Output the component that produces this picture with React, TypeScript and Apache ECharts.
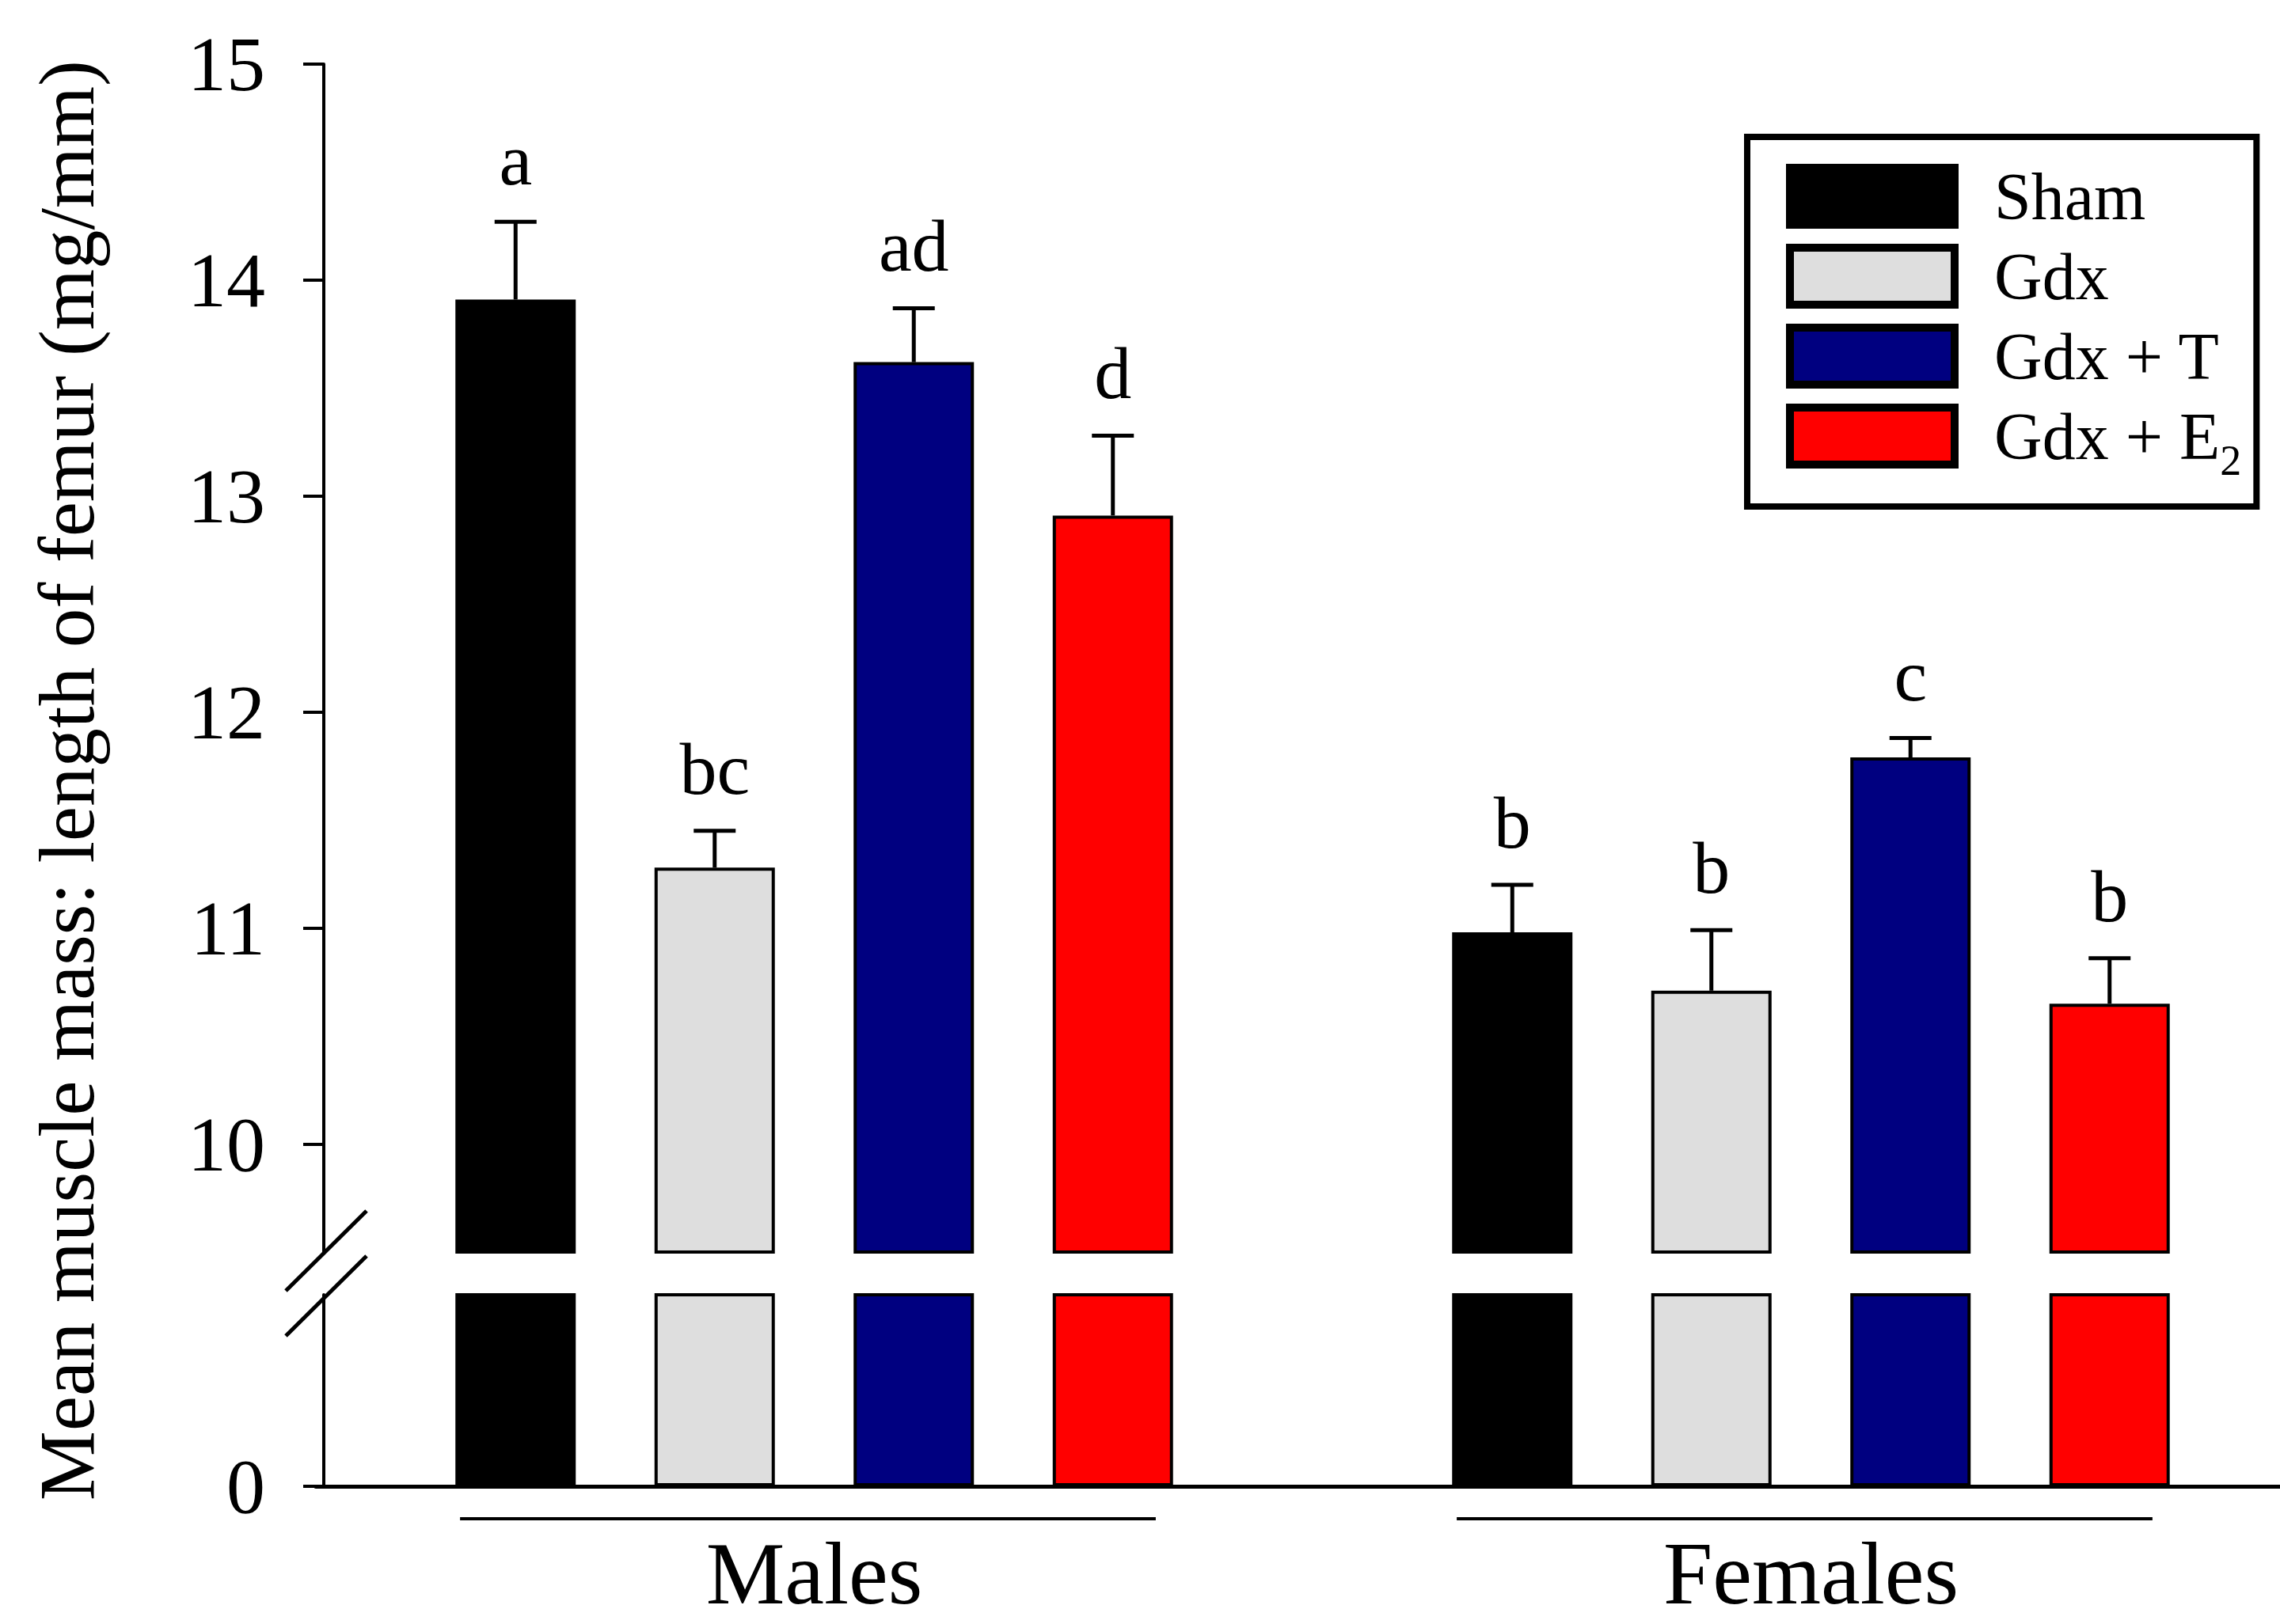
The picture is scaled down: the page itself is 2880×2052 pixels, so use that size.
import React, { useEffect, useRef } from 'react';
import * as echarts from 'echarts';

// ---------- data ----------
const categories = ['Males', 'Females'];
const seriesNames = ['Sham', 'Gdx', 'Gdx + T', 'Gdx + E2'];
const shamMean = [13.91, 10.98];
const shamSE = [0.36, 0.22];
const gdxMean = [11.28, 10.71];
const gdxSE = [0.17, 0.28];
const gdxTMean = [13.62, 11.79];
const gdxTSE = [0.25, 0.09];
const gdxE2Mean = [12.91, 10.65];
const gdxE2SE = [0.37, 0.21];
const shamLetters = ['a', 'b'];
const gdxLetters = ['bc', 'b'];
const gdxTLetters = ['ad', 'c'];
const gdxE2Letters = ['d', 'b'];
const upperTicks = [10, 11, 12, 13, 14, 15];
const lowerTicks = [0];
const yTitle = 'Mean muscle mass: length of femur (mg/mm)';

// ---------- styles / layout ----------
const FONT = '"Liberation Serif", "Times New Roman", serif';
const colors = ['#000000', '#DEDEDE', '#000080', '#FF0000'];
const W = 2880;
const H = 2052;
const GRID_LEFT = 399;
const GRID_WIDTH = 2518;
const AXIS_X = 409;
const UPPER_TOP = 81;
const UPPER_BOTTOM = 1582;
const LOWER_TOP = 1636;
const LOWER_BOTTOM = 1878;
const BAR_WIDTH = 152;
const BAR_GAP = 0.6546;

export default function App() {
  const ref = useRef<HTMLDivElement>(null);

  useEffect(() => {
    if (!ref.current) return;
    const chart = echarts.init(ref.current, null, { renderer: 'svg' });

    const means = [shamMean, gdxMean, gdxTMean, gdxE2Mean];
    const ses = [shamSE, gdxSE, gdxTSE, gdxE2SE];
    const letters = [shamLetters, gdxLetters, gdxTLetters, gdxE2Letters];
    const pitch = BAR_WIDTH * (1 + BAR_GAP);

    const series: any[] = [];
    for (let g = 0; g < 2; g++) {
      seriesNames.forEach((name, i) => {
        series.push({
          type: 'bar',
          name,
          xAxisIndex: g,
          yAxisIndex: g,
          data: means[i],
          barWidth: BAR_WIDTH,
          barGap: (BAR_GAP * 100).toFixed(2) + '%',
          clip: true,
          silent: true,
          itemStyle: { color: colors[i], borderColor: '#000', borderWidth: 4 },
        });
      });
    }

    seriesNames.forEach((name, i) => {
      const offset = (i - 1.5) * pitch;
      series.push({
        type: 'custom',
        xAxisIndex: 0,
        yAxisIndex: 0,
        silent: true,
        z: 5,
        data: means[i].map((m, c) => [c, m, ses[i][c]]),
        renderItem: (params: any, api: any) => {
          const c = api.value(0);
          const m = api.value(1);
          const se = api.value(2);
          const base = api.coord([c, m]);
          const top = api.coord([c, m + se]);
          const x = base[0] + offset;
          return {
            type: 'group',
            children: [
              { type: 'line', shape: { x1: x, y1: base[1], x2: x, y2: top[1] }, style: { stroke: '#000', lineWidth: 5 } },
              { type: 'line', shape: { x1: x - 26.5, y1: top[1], x2: x + 26.5, y2: top[1] }, style: { stroke: '#000', lineWidth: 5 } },
              {
                type: 'text',
                style: {
                  text: letters[i][params.dataIndex],
                  x,
                  y: top[1] - 32,
                  textAlign: 'center',
                  textVerticalAlign: 'bottom',
                  fontSize: 94,
                  fontFamily: FONT,
                  fill: '#000',
                },
              },
            ],
          };
        },
      });
    });

    // group underlines
    series.push({
      type: 'custom',
      xAxisIndex: 1,
      yAxisIndex: 1,
      silent: true,
      data: categories.map((_, i) => [i, 0]),
      renderItem: (params: any, api: any) => {
        const p = api.coord([api.value(0), 0]);
        const w = api.size([1, 0])[0];
        const cx = p[0] - 8;
        return {
          type: 'line',
          shape: { x1: cx - 0.349 * w, y1: p[1] + 41, x2: cx + 0.349 * w, y2: p[1] + 41 },
          style: { stroke: '#000', lineWidth: 4 },
        };
      },
    });

    const yAxisCommon = {
      type: 'value',
      offset: -(AXIS_X - GRID_LEFT),
      splitLine: { show: false },
      axisLine: { show: true, lineStyle: { color: '#000', width: 4 } },
    };

    chart.setOption({
      animation: false,
      backgroundColor: '#ffffff',
      grid: [
        { left: GRID_LEFT, top: UPPER_TOP, width: GRID_WIDTH, height: UPPER_BOTTOM - UPPER_TOP, containLabel: false, outerBoundsMode: 'none' },
        { left: GRID_LEFT, top: LOWER_TOP, width: GRID_WIDTH, height: LOWER_BOTTOM - LOWER_TOP, containLabel: false, outerBoundsMode: 'none' },
      ],
      xAxis: [
        { gridIndex: 0, type: 'category', data: categories, show: false },
        {
          gridIndex: 1,
          type: 'category',
          data: categories,
          axisLine: { show: true, lineStyle: { color: '#000', width: 5 } },
          axisTick: { show: false },
          axisLabel: { fontSize: 112, fontFamily: FONT, color: '#000', margin: 54 },
        },
      ],
      yAxis: [
        {
          ...yAxisCommon,
          gridIndex: 0,
          min: 9.5,
          max: 15,
          axisTick: { show: true, length: 26, lineStyle: { color: '#000', width: 4 }, customValues: upperTicks },
          axisLabel: { customValues: upperTicks, fontSize: 98, fontFamily: FONT, color: '#000', margin: 74 },
        },
        {
          ...yAxisCommon,
          gridIndex: 1,
          min: 0,
          max: 1,
          axisTick: { show: true, length: 26, lineStyle: { color: '#000', width: 4 }, customValues: lowerTicks },
          axisLabel: { customValues: lowerTicks, fontSize: 98, fontFamily: FONT, color: '#000', margin: 74 },
        },
      ],
      legend: {
        data: seriesNames,
        orient: 'vertical',
        left: 2207,
        top: 173,
        icon: 'rect',
        itemWidth: 208,
        itemHeight: 72,
        itemGap: 17,
        padding: [33, 19, 31, 49],
        borderColor: '#000',
        borderWidth: 8,
        backgroundColor: '#fff',
        selectedMode: false,
        itemStyle: { borderColor: '#000', borderWidth: 10 },
        formatter: (name: string) => (name === 'Gdx + E2' ? 'Gdx + E{sub|2}' : name),
        textStyle: {
          fontSize: 84,
          fontFamily: FONT,
          color: '#000',
          lineHeight: 72,
          padding: [0, 0, 0, 45],
          rich: {
            sub: { fontSize: 54, fontFamily: FONT, color: '#000', lineHeight: 10, verticalAlign: 'top', padding: [40, 0, 0, 0] },
          },
        },
      },
      graphic: [
        {
          type: 'text',
          x: 84.5,
          y: 986,
          rotation: Math.PI / 2,
          style: {
            text: yTitle,
            fontSize: 99,
            fontFamily: FONT,
            fill: '#000',
            textAlign: 'center',
            textVerticalAlign: 'middle',
          },
        },
        {
          type: 'line',
          shape: { x1: AXIS_X - 48, y1: UPPER_BOTTOM + 49, x2: AXIS_X + 54, y2: UPPER_BOTTOM - 52 },
          style: { stroke: '#000', lineWidth: 5 },
        },
        {
          type: 'line',
          shape: { x1: AXIS_X - 48, y1: LOWER_TOP + 52, x2: AXIS_X + 54, y2: LOWER_TOP - 49 },
          style: { stroke: '#000', lineWidth: 5 },
        },
      ],
      series,
    });

    return () => chart.dispose();
  }, []);

  return <div ref={ref} style={{ position: 'absolute', left: 0, top: 0, width: W, height: H }} />;
}
